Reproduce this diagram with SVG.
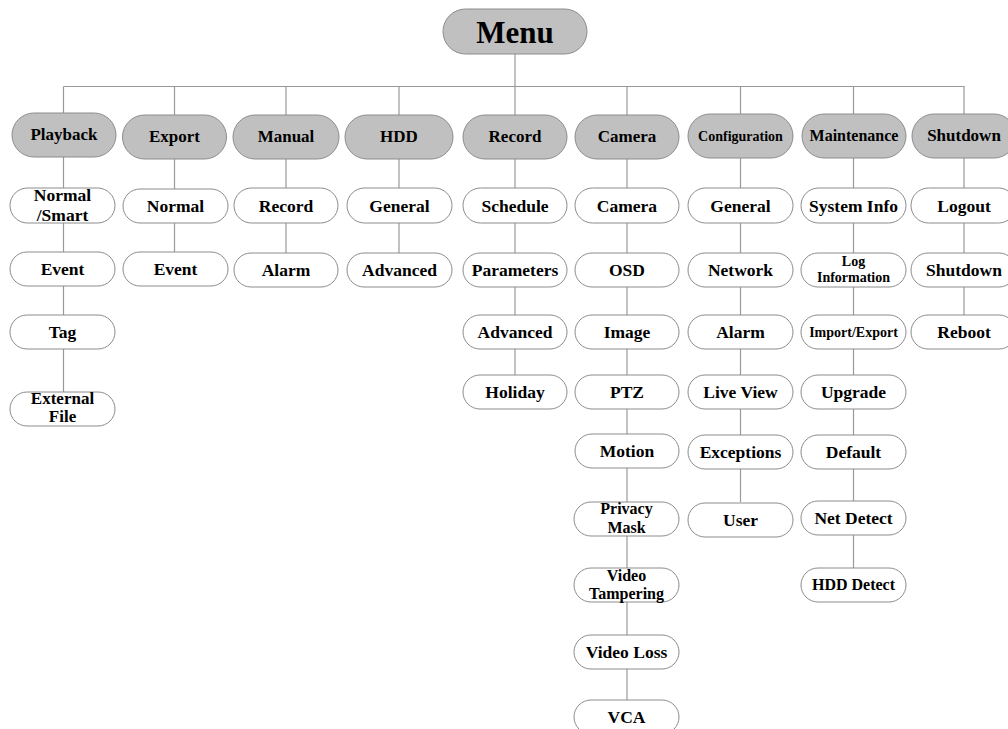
<svg xmlns="http://www.w3.org/2000/svg" width="1008" height="729" viewBox="0 0 1008 729">
<style>
.l1{fill:#c0c0c0;stroke:#8c8c8c;stroke-width:1}
.l2{fill:#ffffff;stroke:#8c8c8c;stroke-width:1}
.c{stroke:#999999;stroke-width:1.2;fill:none}
text{font-family:"Liberation Serif","Times New Roman",serif;font-weight:bold;fill:#000;text-anchor:middle}
.t1{font-size:17px}
.t2{font-size:17.5px}
.s14{font-size:14px}
.s16{font-size:16px}
</style>
<rect width="1008" height="729" fill="#ffffff"/>
<g id="connectors">
<line class="c" x1="515" y1="54" x2="515" y2="86.5"/>
<line class="c" x1="63.5" y1="86.5" x2="964.5" y2="86.5"/>
<line class="c" x1="63.5" y1="86.5" x2="63.5" y2="392"/>
<line class="c" x1="174.5" y1="86.5" x2="174.5" y2="253"/>
<line class="c" x1="286" y1="86.5" x2="286" y2="253"/>
<line class="c" x1="399" y1="86.5" x2="399" y2="253"/>
<line class="c" x1="515" y1="86.5" x2="515" y2="375"/>
<line class="c" x1="627" y1="86.5" x2="627" y2="700"/>
<line class="c" x1="740.5" y1="86.5" x2="740.5" y2="502"/>
<line class="c" x1="853.5" y1="86.5" x2="853.5" y2="568"/>
<line class="c" x1="964" y1="86.5" x2="964" y2="315"/>
</g>
<g id="menu"><rect class="l1" x="443" y="9" width="144" height="45" rx="22.5"/><text x="515" y="43" style="font-size:31px">Menu</text></g>

<g id="playback"><rect class="l1" x="12" y="113" width="104" height="44" rx="22"/><text class="t1" x="64" y="140">Playback</text></g>
<g id="export"><rect class="l1" x="122.5" y="115" width="104" height="44" rx="22"/><text class="t1" x="174.5" y="142">Export</text></g>
<g id="manual"><rect class="l1" x="233" y="115" width="106" height="44" rx="22"/><text class="t1" x="286" y="142">Manual</text></g>
<g id="hdd"><rect class="l1" x="345" y="115" width="108" height="44" rx="22"/><text class="t1" x="399" y="142">HDD</text></g>
<g id="record"><rect class="l1" x="463" y="115" width="104" height="44" rx="22"/><text class="t1" x="515" y="142">Record</text></g>
<g id="camera"><rect class="l1" x="575" y="115" width="104" height="44" rx="22"/><text class="t1" x="627" y="142">Camera</text></g>
<g id="configuration"><rect class="l1" x="688" y="114" width="105" height="44" rx="22"/><text class="s14" x="740.5" y="141">Configuration</text></g>
<g id="maintenance"><rect class="l1" x="802" y="114" width="104" height="44" rx="22"/><text class="s16" x="854" y="141">Maintenance</text></g>
<g id="shutdown"><rect class="l1" x="912" y="114" width="104" height="44" rx="22"/><text class="t1" x="964" y="141">Shutdown</text></g>

<g id="pb-normal"><rect class="l2" x="10" y="188" width="105" height="35" rx="17.5"/><text class="t2" x="62.5"><tspan x="62.5" y="201">Normal</tspan><tspan x="62.5" y="221">/Smart</tspan></text></g>
<g id="pb-event"><rect class="l2" x="10" y="252" width="105" height="34" rx="17"/><text class="t2" x="62.5" y="275">Event</text></g>
<g id="pb-tag"><rect class="l2" x="10" y="315" width="105" height="34" rx="17"/><text class="t2" x="62.5" y="338">Tag</text></g>
<g id="pb-external"><rect class="l2" x="10" y="392" width="105" height="34" rx="17"/><text style="font-size:17px" x="62.5"><tspan x="62.5" y="404">External</tspan><tspan x="62.5" y="422">File</tspan></text></g>

<g id="ex-normal"><rect class="l2" x="123" y="189" width="105" height="34" rx="17"/><text class="t2" x="175.5" y="212">Normal</text></g>
<g id="ex-event"><rect class="l2" x="123" y="252" width="105" height="34" rx="17"/><text class="t2" x="175.5" y="275">Event</text></g>

<g id="ma-record"><rect class="l2" x="234" y="188" width="104" height="35" rx="17.5"/><text class="t2" x="286" y="212">Record</text></g>
<g id="ma-alarm"><rect class="l2" x="234" y="253" width="104" height="34" rx="17"/><text class="t2" x="286" y="276">Alarm</text></g>

<g id="hdd-general"><rect class="l2" x="347" y="188" width="105" height="35" rx="17.5"/><text class="t2" x="399.5" y="212">General</text></g>
<g id="hdd-advanced"><rect class="l2" x="347" y="253" width="105" height="34" rx="17"/><text class="t2" x="399.5" y="276">Advanced</text></g>

<g id="rec-schedule"><rect class="l2" x="463" y="188" width="104" height="35" rx="17.5"/><text class="t2" x="515" y="212">Schedule</text></g>
<g id="rec-parameters"><rect class="l2" x="463" y="253" width="104" height="34" rx="17"/><text class="t2" x="515" y="276">Parameters</text></g>
<g id="rec-advanced"><rect class="l2" x="463" y="315" width="104" height="34" rx="17"/><text class="t2" x="515" y="338">Advanced</text></g>
<g id="rec-holiday"><rect class="l2" x="463" y="375" width="104" height="34" rx="17"/><text class="t2" x="515" y="398">Holiday</text></g>

<g id="cam-camera"><rect class="l2" x="575" y="188" width="104" height="35" rx="17.5"/><text class="t2" x="627" y="212">Camera</text></g>
<g id="cam-osd"><rect class="l2" x="575" y="253" width="104" height="34" rx="17"/><text class="t2" x="627" y="276">OSD</text></g>
<g id="cam-image"><rect class="l2" x="575" y="315" width="104" height="34" rx="17"/><text class="t2" x="627" y="338">Image</text></g>
<g id="cam-ptz"><rect class="l2" x="575" y="375" width="104" height="34" rx="17"/><text class="t2" x="627" y="398">PTZ</text></g>
<g id="cam-motion"><rect class="l2" x="575" y="434" width="104" height="34" rx="17"/><text class="t2" x="627" y="457">Motion</text></g>
<g id="cam-privacy"><rect class="l2" x="574" y="502" width="105" height="34" rx="17"/><text class="s16" x="626.5"><tspan x="626.5" y="514">Privacy</tspan><tspan x="626.5" y="533">Mask</tspan></text></g>
<g id="cam-tampering"><rect class="l2" x="574" y="568" width="105" height="34" rx="17"/><text class="s16" x="626.5"><tspan x="626.5" y="581">Video</tspan><tspan x="626.5" y="599">Tampering</tspan></text></g>
<g id="cam-videoloss"><rect class="l2" x="574" y="635" width="105" height="34" rx="17"/><text class="t2" x="626.5" y="658">Video Loss</text></g>
<g id="cam-vca"><rect class="l2" x="574" y="700" width="105" height="34" rx="17"/><text class="t2" x="626.5" y="723">VCA</text></g>

<g id="cfg-general"><rect class="l2" x="688" y="188" width="105" height="35" rx="17.5"/><text class="t2" x="740.5" y="212">General</text></g>
<g id="cfg-network"><rect class="l2" x="688" y="253" width="105" height="34" rx="17"/><text class="t2" x="740.5" y="276">Network</text></g>
<g id="cfg-alarm"><rect class="l2" x="688" y="315" width="105" height="34" rx="17"/><text class="t2" x="740.5" y="338">Alarm</text></g>
<g id="cfg-liveview"><rect class="l2" x="688" y="375" width="105" height="34" rx="17"/><text class="t2" x="740.5" y="398">Live View</text></g>
<g id="cfg-exceptions"><rect class="l2" x="688" y="435" width="105" height="34" rx="17"/><text class="t2" x="740.5" y="458">Exceptions</text></g>
<g id="cfg-user"><rect class="l2" x="688" y="503" width="105" height="34" rx="17"/><text class="t2" x="740.5" y="526">User</text></g>

<g id="mt-sysinfo"><rect class="l2" x="801" y="188" width="105" height="35" rx="17.5"/><text class="t2" x="853.5" y="212">System Info</text></g>
<g id="mt-log"><rect class="l2" x="801" y="253" width="105" height="34" rx="17"/><text class="s14" x="853.5"><tspan x="853.5" y="266">Log</tspan><tspan x="853.5" y="282">Information</tspan></text></g>
<g id="mt-import"><rect class="l2" x="801" y="315" width="105" height="34" rx="17"/><text class="s14" x="853.5" y="337">Import/Export</text></g>
<g id="mt-upgrade"><rect class="l2" x="801" y="375" width="105" height="34" rx="17"/><text class="t2" x="853.5" y="398">Upgrade</text></g>
<g id="mt-default"><rect class="l2" x="801" y="435" width="105" height="34" rx="17"/><text class="t2" x="853.5" y="458">Default</text></g>
<g id="mt-netdetect"><rect class="l2" x="801" y="501" width="105" height="34" rx="17"/><text class="t2" x="853.5" y="524">Net Detect</text></g>
<g id="mt-hdddetect"><rect class="l2" x="801" y="568" width="105" height="34" rx="17"/><text class="s16" x="853.5" y="590">HDD Detect</text></g>

<g id="sd-logout"><rect class="l2" x="911" y="188" width="105" height="35" rx="17.5"/><text class="t2" x="964" y="212">Logout</text></g>
<g id="sd-shutdown"><rect class="l2" x="911" y="253" width="105" height="34" rx="17"/><text class="t2" x="964" y="276">Shutdown</text></g>
<g id="sd-reboot"><rect class="l2" x="911" y="315" width="105" height="34" rx="17"/><text class="t2" x="964" y="338">Reboot</text></g>
</svg>
